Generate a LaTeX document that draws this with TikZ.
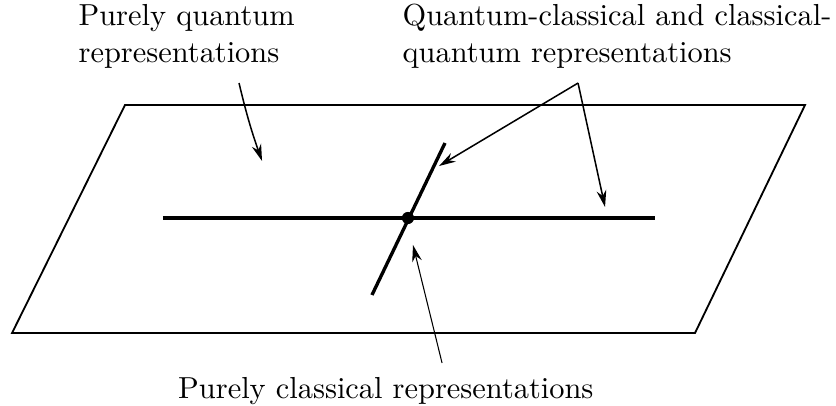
\documentclass[tikz,border=0pt]{standalone}
\usepackage{tikz}
\usetikzlibrary{arrows.meta,positioning}

\begin{document}
\begin{tikzpicture}[
  every node/.style={font=\normalsize},
  plane/.style={line width=0.6pt,line join=miter},
  axis/.style={line width=1.1pt},
  pointer/.style={-{Stealth[length=5.5pt,width=3.2pt]},line width=0.5pt},
  thinpointer/.style={-{Stealth[length=5.5pt,width=3.2pt]},line width=0.35pt},
  caption/.style={inner sep=0pt,align=left},
]
  \useasboundingbox (0,0) rectangle (9.664,4.682);

  % Plane
  \coordinate (tl) at (1.445,3.468);
  \coordinate (tr) at (9.306,3.468);
  \coordinate (br) at (8.034,0.832);
  \coordinate (bl) at (0.139,0.832);
  \draw[plane] (tl) -- (tr) -- (br) -- (bl) -- cycle;

  % Lines through the plane
  \coordinate (hleft)  at (1.884,2.162);
  \coordinate (hright) at (7.572,2.162);
  \coordinate (stop)   at (5.144,3.029);
  \coordinate (sbot)   at (4.300,1.272);
  \draw[axis] (hleft) -- (hright);
  \draw[axis] (sbot) -- (stop);
  \fill (4.716,2.162) circle (2pt) coordinate (origin);

  % Labels
  \node[caption,anchor=base west] (quant) at (0.902,3.965)
    {Purely quantum\\representations};
  \node[caption,anchor=base west] (mixed) at (4.647,3.965)
    {Quantum-classical and classical-\\quantum representations};
  \node[caption,anchor=base] (class) at (4.460,0.081)
    {Purely classical representations};

  % Arrows
  \coordinate (qstart) at (2.763,3.722);
  \coordinate (qend)   at (3.029,2.821);
  \draw[pointer] (qstart) to[bend right=3] (qend);

  \coordinate (mstart) at (6.682,3.722);
  \coordinate (mleft)  at (5.075,2.763);
  \coordinate (mright) at (6.994,2.289);
  \draw[pointer] (mstart) -- (mleft);
  \draw[pointer] (mstart) -- (mright);

  \coordinate (cstart) at (5.110,0.486);
  \coordinate (cend)   at (4.774,1.850);
  \draw[thinpointer] (cstart) -- (cend);
\end{tikzpicture}
\end{document}
